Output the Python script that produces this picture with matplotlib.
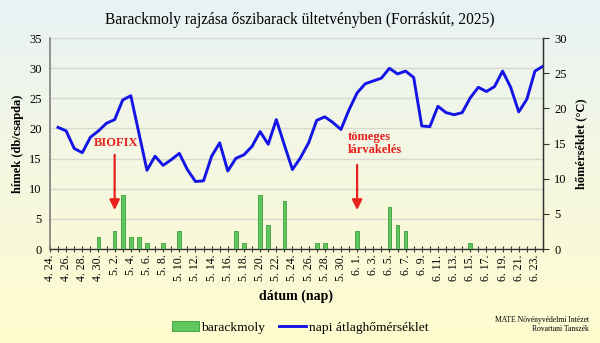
import matplotlib
matplotlib.use("Agg")
import matplotlib.pyplot as plt
import numpy as np
import pandas as pd
from matplotlib.patches import Patch
from matplotlib.lines import Line2D

plt.rcParams['font.family'] = ['Liberation Serif', 'DejaVu Serif']

# Days of the season, 2025.04.24 - 2025.06.24
days = pd.date_range('2025-04-24', '2025-06-24', freq='D')
day_labels = [f"{d.month}. {d.day}." for d in days]

# Males caught per trap (db/csapda)
moths = [0, 0, 0, 0, 0, 0, 2, 0, 3, 9, 2, 2, 1, 0, 1, 0, 3, 0, 0, 0,
         0, 0, 0, 3, 1, 0, 9, 4, 0, 8, 0, 0, 0, 1, 1, 0, 0, 0, 3, 0,
         0, 0, 7, 4, 3, 0, 0, 0, 0, 0, 0, 0, 1, 0, 0, 0, 0, 0, 0, 0,
         0, 0]

# Daily mean temperature (°C), no reading on the first day
temp = [np.nan, 17.3, 16.8, 14.3, 13.7, 15.9, 16.8, 17.9, 18.4, 21.2,
        21.8, 16.5, 11.2, 13.2, 11.9, 12.7, 13.6, 11.3, 9.6, 9.7,
        13.2, 15.1, 11.1, 12.9, 13.4, 14.6, 16.7, 14.9, 18.4, 14.8,
        11.3, 13.0, 15.1, 18.3, 18.8, 18.0, 17.0, 19.8, 22.2, 23.5,
        23.9, 24.3, 25.7, 24.9, 25.3, 24.4, 17.5, 17.4, 20.3, 19.4,
        19.1, 19.4, 21.5, 23.0, 22.4, 23.1, 25.3, 23.0, 19.5, 21.3,
        25.3, 26.0]

biofix_day = 8       # 5. 2.
hatching_day = 38    # 6. 1.

x = np.arange(len(days))

fig = plt.figure(figsize=(6, 3.43), dpi=100)

# soft background from pale blue at the top to pale yellow at the bottom
bg = fig.add_axes([0, 0, 1, 1], zorder=-10)
top = np.array([0.91, 0.95, 0.96])
mid = np.array([0.96, 0.97, 0.88])
bot = np.array([1.00, 0.99, 0.81])
t = np.linspace(0, 1, 256)[:, None]
grad = np.where(t < 0.5, top + (mid - top) * (t / 0.5), mid + (bot - mid) * ((t - 0.5) / 0.5))
bg.imshow(grad[:, None, :], aspect='auto', extent=[0, 1, 0, 1])
bg.axis('off')

ax = fig.add_axes([0.0833, 0.274, 0.8217, 0.615])
ax.patch.set_alpha(0)
ax2 = ax.twinx()

ax.bar(x, moths, width=0.45, color='#5ec85e', edgecolor='#3c9e3c', linewidth=0.6, zorder=3)
ax2.plot(x, temp, color='#1414e6', linewidth=2.1, zorder=4)

ax.set_xlim(0, len(days) - 1)
ax.set_ylim(0, 35)
ax.set_yticks(range(0, 36, 5))
ax2.set_ylim(0, 30)
ax2.set_yticks(range(0, 31, 5))

ax.set_xticks(x)
ax.set_xticklabels([lab if i % 2 == 0 else '' for i, lab in enumerate(day_labels)],
                   rotation=90, fontsize=8.5)
ax.tick_params(axis='x', direction='inout', length=4, width=0.8, color='#333333', pad=2)
ax.tick_params(axis='y', length=0, labelsize=9, pad=6)
ax2.tick_params(axis='y', direction='out', length=4, width=0.8, color='#333333', labelsize=9, pad=4)

ax.yaxis.grid(True, color='#d8d8d0', linewidth=1.0)
ax.set_axisbelow(True)

for a in (ax, ax2):
    a.spines['top'].set_visible(False)
ax.spines['left'].set_color('#7f7f7f')
ax.spines['left'].set_linewidth(1.2)
ax2.spines['left'].set_visible(False)
ax2.spines['right'].set_color('#333333')
ax2.spines['right'].set_linewidth(1.0)
ax.spines['bottom'].set_color('#333333')
ax.spines['bottom'].set_linewidth(1.0)
ax2.spines['bottom'].set_visible(False)

ax.set_ylabel('hímek (db/csapda)', fontsize=9, fontweight='bold', labelpad=4)
ax2.set_ylabel('hőmérséklet (°C)', fontsize=9, fontweight='bold', labelpad=6)
ax.set_xlabel('dátum (nap)', fontsize=10, fontweight='bold', labelpad=6)

fig.suptitle('Barackmoly rajzása őszibarack ültetvényben (Forráskút, 2025)',
             x=0.5, y=0.965, fontsize=11.2)

# event markers
red = '#e8201e'
ax.annotate('', xy=(biofix_day, 6.0), xytext=(biofix_day, 16.1),
            arrowprops=dict(arrowstyle='-|>,head_width=0.3,head_length=0.6',
                            color=red, lw=1.6), zorder=6)
ax.text(biofix_day + 0.2, 17.6, 'BIOFIX', color=red, fontsize=9, fontweight='bold',
        ha='center', va='center', zorder=6)
ax.annotate('', xy=(hatching_day, 6.0), xytext=(hatching_day, 14.4),
            arrowprops=dict(arrowstyle='-|>,head_width=0.3,head_length=0.6',
                            color=red, lw=1.6), zorder=6)
ax.text(hatching_day - 1.2, 17.5, 'tömeges\nlárvakelés', color=red, fontsize=9,
        fontweight='bold', ha='left', va='center', linespacing=1.2, zorder=6)

handles = [Patch(facecolor='#5ec85e', edgecolor='#3c9e3c', linewidth=0.6),
           Line2D([0], [0], color='#1414e6', linewidth=2.1)]
fig.legend(handles, ['barackmoly', 'napi átlaghőmérséklet'], loc='center',
           bbox_to_anchor=(0.5, 0.045), ncol=2, frameon=False, fontsize=9.7,
           handlelength=2.0, handletextpad=0.2, columnspacing=1.0)

fig.text(0.982, 0.068, 'MATE Növényvédelmi Intézet', ha='right', va='center', fontsize=5.5)
fig.text(0.982, 0.040, 'Rovartani Tanszék', ha='right', va='center', fontsize=5.5)

fig.savefig('out.png', dpi=100)
